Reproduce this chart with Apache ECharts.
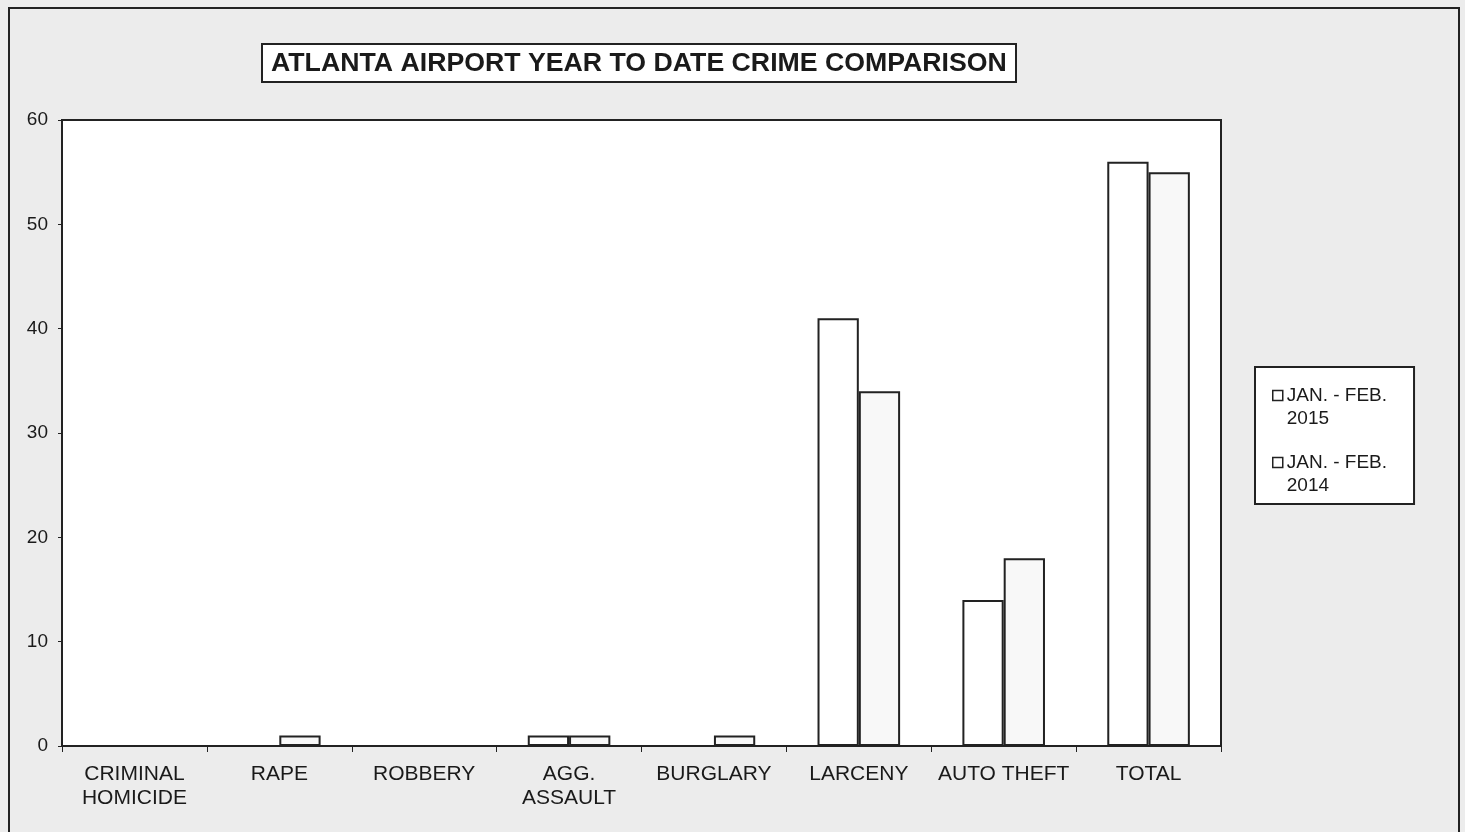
<!DOCTYPE html>
<html>
<head>
<meta charset="utf-8">
<script src="https://cdn.jsdelivr.net/npm/echarts@6/dist/echarts.min.js"></script>
<style>
  html, body { margin: 0; padding: 0; background: #ececec; }
  #main { width: 1465px; height: 832px; }
</style>
</head>
<body>
<div id="main"></div>
<script>
var categories = ['CRIMINAL\nHOMICIDE', 'RAPE', 'ROBBERY', 'AGG.\nASSAULT', 'BURGLARY', 'LARCENY', 'AUTO THEFT', 'TOTAL'];
var ytd2015 = [0, 0, 0, 1, 0, 41, 14, 56];
var ytd2014 = [0, 1, 0, 1, 1, 34, 18, 55];
var seriesNames = ['JAN. - FEB.\n2015', 'JAN. - FEB.\n2014'];

var chart = echarts.init(document.getElementById('main'));

var font = 'Liberation Sans, Arial, sans-serif';

// square on top, empty move-to below so the marker sits on the first text line
var legendIcon = 'path://M0,0 L10,0 L10,10 L0,10 Z M0,33';

var option = {
  backgroundColor: '#ececec',
  animation: false,
  title: {
    text: 'ATLANTA AIRPORT YEAR TO DATE CRIME COMPARISON',
    left: 262,
    top: 44,
    padding: [6, 9, 5, 9],
    backgroundColor: '#fff',
    borderColor: '#222',
    borderWidth: 2,
    textStyle: {
      fontFamily: font,
      fontSize: 26.7,
      fontWeight: 'bold',
      color: '#1a1a1a'
    }
  },
  legend: {
    orient: 'vertical',
    left: 1255,
    top: 367,
    padding: [17, 27, 7, 17],
    itemGap: 21,
    itemWidth: 10,
    itemHeight: 33,
    icon: legendIcon,
    backgroundColor: '#fff',
    borderColor: '#222',
    borderWidth: 2,
    align: 'left',
    data: seriesNames.map(function (n) {
      return { name: n, itemStyle: { color: '#fff', borderColor: '#222', borderWidth: 1.5 } };
    }),
    textStyle: {
      fontFamily: font,
      fontSize: 19,
      color: '#1a1a1a',
      lineHeight: 23,
      padding: [0, 0, 0, -1]
    }
  },
  grid: {
    left: 62,
    top: 120,
    width: 1159,
    height: 626,
    show: true,
    backgroundColor: '#fff',
    borderColor: '#222',
    borderWidth: 2
  },
  xAxis: {
    type: 'category',
    data: categories,
    axisLine: { lineStyle: { color: '#222', width: 2 } },
    axisTick: { show: true, length: 6, lineStyle: { color: '#222' } },
    axisLabel: {
      interval: 0,
      margin: 16,
      fontFamily: font,
      fontSize: 21,
      lineHeight: 24,
      color: '#1a1a1a'
    }
  },
  yAxis: {
    type: 'value',
    min: 0,
    max: 60,
    interval: 10,
    splitLine: { show: false },
    axisLine: { show: true, lineStyle: { color: '#222', width: 2 } },
    axisTick: { show: true, length: 4, lineStyle: { color: '#222' } },
    axisLabel: {
      margin: 14,
      fontFamily: font,
      fontSize: 19,
      color: '#1a1a1a'
    }
  },
  series: [
    {
      name: seriesNames[0],
      type: 'bar',
      data: ytd2015,
      barGap: '0%',
      barCategoryGap: '43%',
      itemStyle: { color: '#fff', borderColor: '#222', borderWidth: 2 }
    },
    {
      name: seriesNames[1],
      type: 'bar',
      data: ytd2014,
      itemStyle: { color: '#f8f8f8', borderColor: '#222', borderWidth: 2 }
    }
  ],
  graphic: [
    {
      type: 'rect',
      silent: true,
      shape: { x: 9, y: 8, width: 1450, height: 840 },
      style: { fill: 'none', stroke: '#222', lineWidth: 2 }
    }
  ]
};

chart.setOption(option);
</script>
</body>
</html>
